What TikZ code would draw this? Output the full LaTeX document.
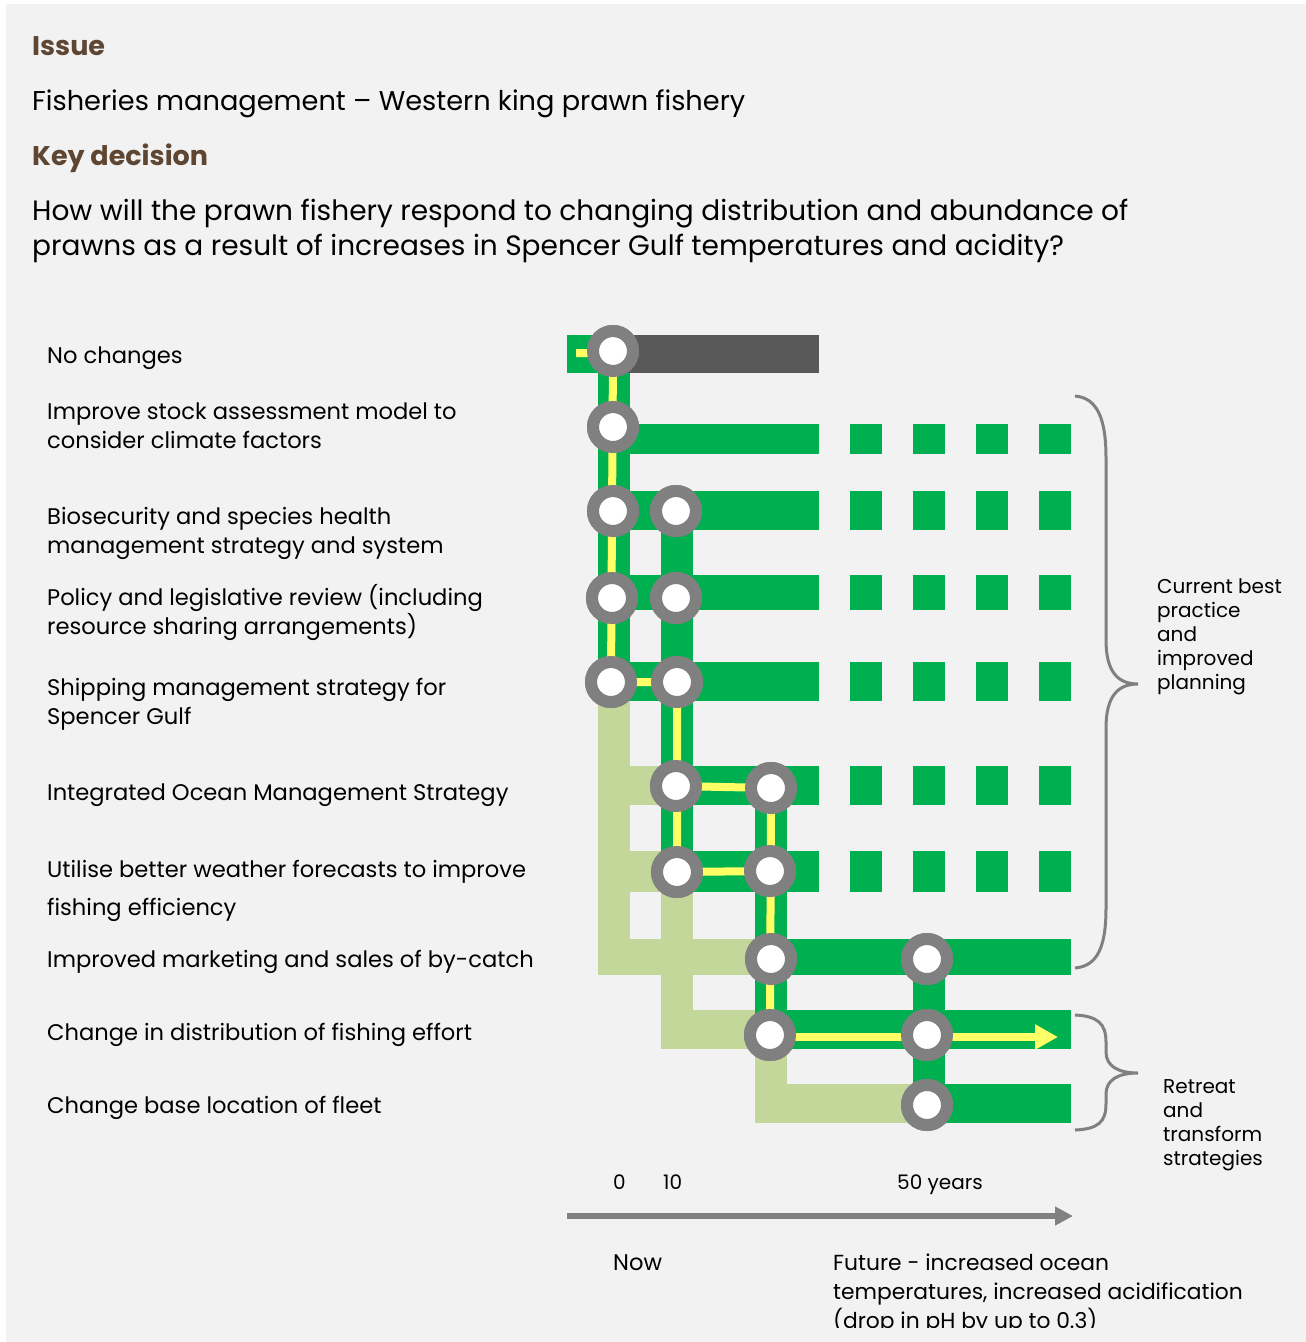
\documentclass[tikz,border=0pt]{standalone}
\usepackage{fontspec}
\setmainfont{Poppins}
\usetikzlibrary{arrows.meta}

\definecolor{bggrey}{HTML}{F2F2F2}
\definecolor{trackgreen}{HTML}{00B050}
\definecolor{palegreen}{HTML}{C4D79B}
\definecolor{darkbar}{HTML}{595959}
\definecolor{ringgrey}{HTML}{808080}
\definecolor{pathyellow}{HTML}{FFFF66}
\definecolor{headbrown}{HTML}{5F4632}

\begin{document}
\begin{tikzpicture}[x=1pt,y=-1pt]
	\tikzstyle{stop} = [circle, fill=white, draw=ringgrey, line width=12pt, minimum size=40pt, inner sep=0pt]
	\tikzstyle{planned} = [trackgreen, dash pattern=on 32pt off 31pt]
	\tikzstyle{route} = [pathyellow, line width=8pt]
	\tikzstyle{brace} = [ringgrey, line width=3pt]
	\tikzstyle{head} = [anchor=base west, inner sep=0pt, text=headbrown, font=\fontsize{27}{34}\selectfont\bfseries]
	\tikzstyle{body} = [anchor=base west, inner sep=0pt, align=left, font=\fontsize{28}{35}\selectfont]
	\tikzstyle{label} = [anchor=base west, inner sep=0pt, align=left, font=\fontsize{22.6}{29}\selectfont]
	\tikzstyle{note} = [anchor=base west, inner sep=0pt, align=left, font=\fontsize{20}{24}\selectfont]

	\useasboundingbox (0,0) rectangle (1306,1342);
	\fill[white] (0,0) rectangle (1306,1342);
	\fill[bggrey] (6,4) rectangle (1306,1342);

	% heading (multi-line nodes sit on their last baseline)
	\node (issue) [head] at (32,55) {Issue};
	\node (topic) [body, font=\fontsize{27.2}{35}\selectfont] at (32,110) {Fisheries management -- Western king prawn fishery};
	\node (key) [head] at (32,165) {Key decision};
	\node (question) [body] at (32,255) {How will the prawn fishery respond to changing distribution and abundance of\\prawns as a result of increases in Spencer Gulf temperatures and acidity?};

	% options
	\node (o1) [label] at (47,363) {No changes};
	\node (o2) [label] at (47,448) {Improve stock assessment model to\\consider climate factors};
	\node (o3) [label] at (47,553) {Biosecurity and species health\\management strategy and system};
	\node (o4) [label] at (47,634) {Policy and legislative review (including\\resource sharing arrangements)};
	\node (o5) [label] at (47,724) {Shipping management strategy for\\Spencer Gulf};
	\node (o6) [label] at (47,800) {Integrated Ocean Management Strategy};
	\node (o7) [label] at (47,915) {Utilise better weather forecasts to improve\\[9pt]fishing efficiency};
	\node (o8) [label] at (47,967) {Improved marketing and sales of by-catch};
	\node (o9) [label] at (47,1040) {Change in distribution of fishing effort};
	\node (o10) [label] at (47,1113) {Change base location of fleet};

	% earlier pathways
	\fill[palegreen] (598,701) rectangle (630,975);
	\fill[palegreen] (630,766) rectangle (661,805);
	\fill[palegreen] (630,851) rectangle (661,892);
	\fill[palegreen] (630,939) rectangle (755,975);
	\fill[palegreen] (661,892) rectangle (693,1049);
	\fill[palegreen] (693,1010) rectangle (755,1049);
	\fill[palegreen] (755,1049) rectangle (787,1123);
	\fill[palegreen] (787,1084) rectangle (913,1123);

	% tracks
	\fill[trackgreen] (567,335) rectangle (613,373);
	\fill[darkbar] (613,335) rectangle (819,373);
	\fill[trackgreen] (598,373) rectangle (630,701);
	\fill[trackgreen] (613,424) rectangle (819,454);
	\fill[trackgreen] (613,491) rectangle (819,530);
	\fill[trackgreen] (613,575) rectangle (819,610);
	\fill[trackgreen] (613,662) rectangle (819,701);
	\fill[trackgreen] (661,491) rectangle (693,892);
	\fill[trackgreen] (677,766) rectangle (819,805);
	\fill[trackgreen] (677,851) rectangle (819,892);
	\fill[trackgreen] (755,766) rectangle (787,1049);
	\fill[trackgreen] (771,939) rectangle (1071,975);
	\fill[trackgreen] (771,1010) rectangle (1071,1049);
	\fill[trackgreen] (913,939) rectangle (945,1123);
	\fill[trackgreen] (928,1084) rectangle (1071,1123);
	\foreach \y/\h in {439/30, 510.5/39, 592.5/35, 681.5/39, 785.5/39, 871.5/41}
		\draw[planned, line width=\h pt] (850,\y) -- (1071,\y);

	% stations
	\node (a1) [stop] at (613,351) {};
	\node (a2) [stop] at (613,427) {};
	\node (a3) [stop] at (613,511) {};
	\node (a4) [stop] at (612,598) {};
	\node (a5) [stop] at (611,682) {};
	\node (b3) [stop] at (676,511) {};
	\node (b4) [stop] at (676,598) {};
	\node (b5) [stop] at (677,682) {};
	\node (b6) [stop] at (676,786) {};
	\node (b7) [stop] at (677,872) {};
	\node (c6) [stop] at (771,788) {};
	\node (c7) [stop] at (770,871) {};
	\node (c8) [stop] at (771,959) {};
	\node (c9) [stop] at (770,1035) {};
	\node (d8) [stop] at (927,959) {};
	\node (d9) [stop] at (927,1035) {};
	\node (d10) [stop] at (927,1105) {};
	\coordinate (start) at (576,353);
	\coordinate (goal) at (1058,1037);

	% adaptive pathway, then the stations again on top
	\draw[route] (start) -- (a1.center |- start) -- (a5.center) -- (b5.center) -- (b7.center) -- (c7.center);
	\draw[route] (b6.center) -- (c6.center) -- (c9.center |- goal);
	\draw[route, -{Triangle[length=23pt, width=24pt]}] (c9.center |- goal) -- (goal);
	\foreach \s in {a1,a2,a3,a4,a5,b3,b4,b5,b6,b7,c6,c7,c8,c9,d8,d9,d10}
		\node[stop] at (\s) {};

	% braces
	\draw[brace] (1075,396) .. controls (1098,398) and (1106,420) .. (1106,458) -- (1106,640) .. controls (1106,672) and (1118,684) .. (1138,684) .. controls (1118,684) and (1106,696) .. (1106,728) -- (1106,908) .. controls (1106,946) and (1098,966) .. (1075,968);
	\draw[brace] (1075,1015) .. controls (1098,1016) and (1106,1024) .. (1106,1042) -- (1106,1052) .. controls (1106,1066) and (1118,1073) .. (1138,1073) .. controls (1118,1073) and (1106,1080) .. (1106,1094) -- (1106,1104) .. controls (1106,1122) and (1098,1129) .. (1075,1130);
	\node (best) [note] at (1157,689) {Current best\\practice\\and\\improved\\planning};
	\node (retreat) [note] at (1163,1165) {Retreat\\and\\transform\\strategies};

	% time axis
	\coordinate (now) at (567,1216);
	\coordinate (later) at (1073,1216);
	\draw[ringgrey, line width=6pt, -{Triangle[length=18pt, width=18pt]}] (now) -- (later);
	\node (t0) [note] at (613,1189) {0};
	\node (t10) [note] at (663,1189) {10};
	\node (t50) [note] at (897,1189) {50 years};
	\node (nowtext) [label] at (613,1270) {Now};
	\begin{scope}
		\clip (0,0) rectangle (1306,1327);
		\node (future) [label, font=\fontsize{21.8}{29}\selectfont] at (833,1328) {Future - increased ocean\\temperatures, increased acidification\\(drop in pH by up to 0.3)};
	\end{scope}
\end{tikzpicture}
\end{document}
